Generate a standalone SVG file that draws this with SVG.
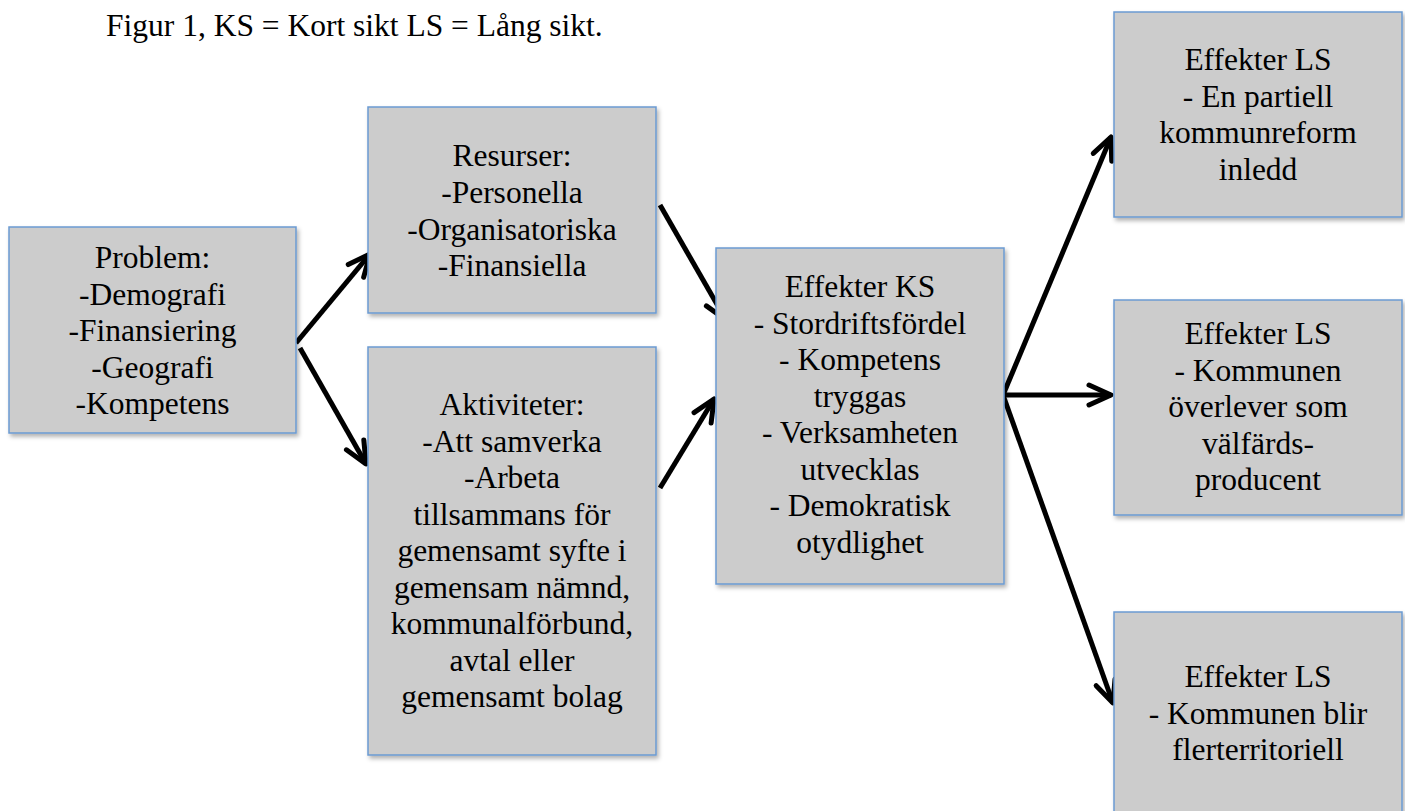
<svg xmlns="http://www.w3.org/2000/svg" width="1405" height="811" viewBox="0 0 1405 811">
<style>
.box{fill:#cccccc;stroke:#6b9bd2;stroke-width:1.5;filter:url(#sh)}
.t{font-family:"Liberation Serif","Times New Roman",serif;font-size:31.5px;fill:#000;text-anchor:middle}
.cap{font-family:"Liberation Serif","Times New Roman",serif;font-size:31.5px;fill:#000}
.c{stroke:#000;stroke-width:5;fill:none;marker-end:url(#arr)}
</style>
<defs>
<filter id="sh" x="-5%" y="-5%" width="115%" height="115%">
<feDropShadow dx="2" dy="3" stdDeviation="2" flood-color="#000" flood-opacity="0.3"/>
</filter>
<marker id="arr" markerUnits="userSpaceOnUse" orient="auto" refX="0" refY="0" markerWidth="40" markerHeight="40" viewBox="-30 -20 40 40" overflow="visible">
<path d="M-22,-10 L0,0 L-22,10" fill="none" stroke="#000" stroke-width="5" stroke-linecap="round" stroke-linejoin="round"/>
</marker>
</defs>
<rect width="1405" height="811" fill="#fff"/>
<text class="cap" x="106" y="36">Figur 1, KS = Kort sikt LS = Lång sikt.</text>

<g id="connectors">
<line class="c" x1="296" y1="343" x2="370" y2="254"/>
<line class="c" x1="300" y1="348" x2="366" y2="464"/>
<line class="c" x1="660" y1="205" x2="726" y2="320"/>
<line class="c" x1="660" y1="488" x2="714" y2="399"/>
<line class="c" x1="1003" y1="395" x2="1111" y2="137"/>
<line class="c" x1="1003" y1="395" x2="1111" y2="395"/>
<line class="c" x1="1003" y1="395" x2="1113" y2="703"/>
</g>

<g id="problem">
<rect class="box" x="9" y="227" width="287" height="206"/>
<text class="t" x="152.5" y="268">Problem:</text>
<text class="t" x="152.5" y="304.5">-Demografi</text>
<text class="t" x="152.5" y="341">-Finansiering</text>
<text class="t" x="152.5" y="377.5">-Geografi</text>
<text class="t" x="152.5" y="414">-Kompetens</text>
</g>

<g id="resurser">
<rect class="box" x="368" y="107" width="288" height="206"/>
<text class="t" x="512" y="166">Resurser:</text>
<text class="t" x="512" y="203">-Personella</text>
<text class="t" x="512" y="239.5">-Organisatoriska</text>
<text class="t" x="512" y="276">-Finansiella</text>
</g>

<g id="aktiviteter">
<rect class="box" x="368" y="347" width="288" height="408"/>
<text class="t" x="512" y="415">Aktiviteter:</text>
<text class="t" x="512" y="451.5">-Att samverka</text>
<text class="t" x="512" y="488">-Arbeta</text>
<text class="t" x="512" y="524.5">tillsammans för</text>
<text class="t" x="512" y="561">gemensamt syfte i</text>
<text class="t" x="512" y="597.5">gemensam nämnd,</text>
<text class="t" x="512" y="634">kommunalförbund,</text>
<text class="t" x="512" y="670.5">avtal eller</text>
<text class="t" x="512" y="707">gemensamt bolag</text>
</g>

<g id="effekter-ks">
<rect class="box" x="716" y="248" width="288" height="336"/>
<text class="t" x="860" y="297">Effekter KS</text>
<text class="t" x="860" y="333.5">- Stordriftsfördel</text>
<text class="t" x="860" y="370">- Kompetens</text>
<text class="t" x="860" y="406.5">tryggas</text>
<text class="t" x="860" y="443">- Verksamheten</text>
<text class="t" x="860" y="479.5">utvecklas</text>
<text class="t" x="860" y="516">- Demokratisk</text>
<text class="t" x="860" y="552.5">otydlighet</text>
</g>

<g id="effekter-ls-1">
<rect class="box" x="1114" y="12" width="288" height="205"/>
<text class="t" x="1258" y="70">Effekter LS</text>
<text class="t" x="1258" y="106.5">- En partiell</text>
<text class="t" x="1258" y="143">kommunreform</text>
<text class="t" x="1258" y="179.5">inledd</text>
</g>

<g id="effekter-ls-2">
<rect class="box" x="1114" y="300" width="288" height="215"/>
<text class="t" x="1258" y="344">Effekter LS</text>
<text class="t" x="1258" y="380.5">- Kommunen</text>
<text class="t" x="1258" y="417">överlever som</text>
<text class="t" x="1258" y="453.5">välfärds-</text>
<text class="t" x="1258" y="490">producent</text>
</g>

<g id="effekter-ls-3">
<rect class="box" x="1114" y="612" width="288" height="210"/>
<text class="t" x="1258" y="687">Effekter LS</text>
<text class="t" x="1258" y="723.5">- Kommunen blir</text>
<text class="t" x="1258" y="760">flerterritoriell</text>
</g>
</svg>
